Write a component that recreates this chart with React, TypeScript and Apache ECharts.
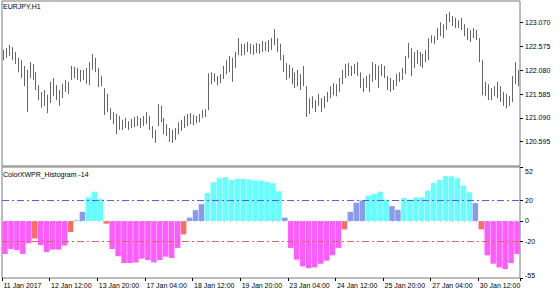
import React, { useEffect, useRef } from 'react';
import * as echarts from 'echarts';

const symbolTitle = 'EURJPY,H1';
const indicatorTitle = 'ColorXWPR_Histogram -14';

const dateLabels = [
  '11 Jan 2017', '12 Jan 12:00', '13 Jan 20:00', '17 Jan 04:00', '18 Jan 12:00',
  '19 Jan 20:00', '23 Jan 04:00', '24 Jan 12:00', '25 Jan 20:00', '27 Jan 04:00', '30 Jan 12:00',
];

const priceTicks = [123.07, 122.575, 122.08, 121.585, 121.09, 120.595];
const wprTicks = [52, 20, 0, -20, -55];
const highLevel = 20;
const lowLevel = -20;

const priceHigh = [
  122.50, 122.54, 122.61, 122.56, 122.46, 122.34, 122.29, 122.17, 122.09, 122.25,
  122.21, 122.04, 121.77, 121.63, 121.67, 121.57, 121.84, 121.92, 121.77, 121.67,
  121.80, 121.88, 121.84, 122.17, 122.15, 122.13, 122.09, 122.09, 122.13, 122.25,
  122.42, 122.34, 122.13, 121.96, 121.71, 121.59, 121.29, 121.21, 121.17, 121.13,
  121.05, 121.09, 121.02, 121.07, 121.11, 121.13, 121.09, 121.13, 121.21, 121.13,
  120.92, 120.84, 121.38, 121.34, 121.09, 120.96, 120.88, 120.84, 120.88, 121.00,
  121.05, 121.13, 121.17, 121.19, 121.15, 121.13, 121.17, 121.25, 121.27, 122.02,
  122.04, 122.02, 121.96, 122.00, 122.17, 122.29, 122.38, 122.34, 122.46, 122.75,
  122.63, 122.63, 122.67, 122.63, 122.61, 122.65, 122.63, 122.69, 122.67, 122.71,
  122.75, 122.94, 122.75, 122.63, 122.40, 122.23, 122.19, 122.13, 122.04, 122.09,
  122.00, 122.17, 121.75, 121.50, 121.54, 121.46, 121.59, 121.50, 121.54, 121.63,
  121.75, 121.81, 121.79, 121.92, 122.09, 122.21, 122.23, 122.17, 122.21, 122.25,
  122.04, 121.92, 121.96, 122.00, 122.25, 122.21, 122.17, 122.21, 122.17, 121.96,
  121.92, 121.88, 122.00, 122.04, 122.13, 122.38, 122.65, 122.54, 122.46, 122.50,
  122.46, 122.42, 122.50, 122.75, 122.81, 122.79, 122.96, 123.08, 123.04, 123.25,
  123.29, 123.21, 123.17, 123.12, 123.17, 123.04, 122.96, 122.92, 122.96, 122.92,
  122.75, 122.29, 121.84, 121.79, 121.71, 121.75, 121.84, 121.75, 121.63, 121.59,
  121.54, 121.96, 122.25, 122.09,
];

const priceLow = [
  122.29, 122.34, 122.38, 122.29, 122.21, 122.04, 121.92, 121.75, 121.21, 121.92,
  121.88, 121.67, 121.46, 121.30, 121.34, 121.19, 121.40, 121.55, 121.46, 121.34,
  121.50, 121.63, 121.59, 121.88, 121.92, 121.88, 121.84, 121.88, 121.80, 121.77,
  122.09, 122.04, 121.73, 121.75, 121.15, 121.21, 121.05, 120.96, 120.75, 120.84,
  120.84, 120.88, 120.84, 120.88, 120.90, 120.92, 120.88, 120.92, 120.96, 120.84,
  120.67, 120.57, 120.92, 121.00, 120.75, 120.71, 120.59, 120.57, 120.63, 120.75,
  120.82, 120.88, 120.92, 120.96, 120.94, 120.98, 121.00, 121.09, 121.11, 121.25,
  121.79, 121.84, 121.77, 121.81, 121.90, 122.00, 122.04, 121.84, 122.13, 122.40,
  122.38, 122.40, 122.46, 122.42, 122.40, 122.44, 122.42, 122.46, 122.48, 122.46,
  122.50, 122.60, 122.46, 122.29, 122.04, 121.88, 121.92, 121.79, 121.71, 121.75,
  121.67, 121.75, 121.11, 121.17, 121.29, 121.21, 121.34, 121.21, 121.29, 121.42,
  121.50, 121.56, 121.54, 121.63, 121.79, 121.92, 121.96, 121.96, 122.00, 121.96,
  121.71, 121.63, 121.71, 121.63, 121.84, 121.88, 121.71, 121.96, 121.92, 121.67,
  121.63, 121.67, 121.75, 121.84, 121.88, 122.00, 122.33, 121.96, 122.13, 122.21,
  122.17, 122.13, 122.25, 122.29, 122.65, 122.63, 122.71, 122.79, 122.75, 122.92,
  123.08, 123.00, 122.96, 122.96, 122.92, 122.79, 122.71, 122.67, 122.75, 122.71,
  122.25, 121.56, 121.54, 121.46, 121.46, 121.54, 121.50, 121.42, 121.34, 121.29,
  121.34, 121.42, 121.79, 121.75,
];

const wprValues = [
  -31.8, -27, -28, -31.8, -21.4, -16.9, -23.4, -29.9, -27.6, -27.6,
  -23.7, -10.7, 0.6, 8.8, 22.7, 28.2, 21, -2.6, -27, -34,
  -40.6, -40.6, -40, -36.4, -37.7, -40, -37.7, -34.4, -35.7, -26,
  -13, 3.2, 10.4, 16.2, 27, 37.3, 41.2, 42.2, 39.6, 40.6,
  40.6, 40, 39, 39, 37.7, 36.4, 28.6, 3.2, -26, -37.3,
  -43.8, -45.5, -44.8, -41.2, -38.3, -33.1, -26, -8.1, 8.8, 17.5,
  19.5, 24.4, 26, 28.2, 20.5, 14.3, 10.7, 22.1, 20.5, 22.7,
  22.7, 29.2, 36.7, 39.6, 43.2, 42.9, 41.2, 34.1, 27.6, 17.2,
  -8.1, -33.1, -41.2, -44.8, -46.4, -40.6, -31.8,
];

const FONT = 'Liberation Sans';
const TXT = { fontSize: 7, fontFamily: FONT, color: '#000000' };

function wprColor(v: number): string {
  if (v > highLevel) return '#66ffff';
  if (v >= 0) return '#8a9aec';
  if (v >= lowLevel) return '#ff6d5e';
  return '#ff5cff';
}

export default function App() {
  const ref = useRef<HTMLDivElement>(null);

  useEffect(() => {
    if (!ref.current) return;
    const chart = echarts.init(ref.current, undefined, { renderer: 'svg' });
    const priceIdx = priceHigh.map((_, i) => i);
    const wprIdx = wprValues.map((_, i) => i);
    const gray = '#666666';

    chart.setOption({
      animation: false,
      backgroundColor: '#ffffff',
      title: [
        { text: symbolTitle, left: 3, top: 3, padding: 0, textStyle: { ...TXT, fontWeight: 'normal' } },
        { text: indicatorTitle, left: 3, top: 171, padding: 0, textStyle: { ...TXT, fontWeight: 'normal' } },
      ],
      grid: [
        { left: 2, right: 40, top: 1, height: 165, show: true, borderColor: '#7a7a7a', borderWidth: 1 },
        { left: 2, right: 40, top: 167, height: 111, show: true, borderColor: '#7a7a7a', borderWidth: 1 },
      ],
      xAxis: [
        { type: 'category', gridIndex: 0, data: priceIdx, show: false },
        { type: 'category', gridIndex: 1, data: wprIdx, show: false },
        {
          type: 'category', gridIndex: 1, data: priceIdx, position: 'bottom',
          axisLine: { show: false },
          axisTick: { show: true, interval: 15, length: 3, lineStyle: { color: '#000' } },
          axisLabel: {
            ...TXT, interval: 15, align: 'left', margin: 4,
            formatter: (_v: string, i: number) => (i % 16 === 0 ? dateLabels[i / 16] ?? '' : ''),
          },
          splitLine: { show: false },
        },
      ],
      yAxis: [
        {
          type: 'value', gridIndex: 0, position: 'right', min: 120.09, max: 123.521,
          axisLine: { show: false }, splitLine: { show: false },
          axisTick: { show: true, customValues: priceTicks, length: 3, lineStyle: { color: '#000' } },
          axisLabel: { ...TXT, customValues: priceTicks, margin: 5, formatter: (v: number) => v.toFixed(3) },
        },
        {
          type: 'value', gridIndex: 1, position: 'right', min: -55, max: 52,
          axisLine: { show: false }, splitLine: { show: false },
          axisTick: { show: true, customValues: wprTicks, length: 3, lineStyle: { color: '#000' } },
          axisLabel: {
            ...TXT, customValues: wprTicks, margin: 5,
            formatter: (v: number) => (v === 52 ? '{t|52}' : v === -55 ? '{b|-55}' : String(v)),
            rich: {
              t: { ...TXT, padding: [8, 0, 0, 0] },
              b: { ...TXT, padding: [0, 0, 6, 0] },
            },
          },
        },
      ],
      series: [
        {
          type: 'candlestick', xAxisIndex: 0, yAxisIndex: 0,
          data: priceHigh.map((h, i) => [priceLow[i], h, priceLow[i], h]),
          barWidth: 1.3,
          itemStyle: { color: gray, color0: gray, borderColor: gray, borderColor0: gray, borderWidth: 1 },
        },
        {
          type: 'bar', xAxisIndex: 1, yAxisIndex: 1,
          data: wprValues.map((v) => ({ value: v, itemStyle: { color: wprColor(v) } })),
          barCategoryGap: '8%',
          markLine: {
            silent: true, symbol: ['none', 'none'], label: { show: false },
            data: [
              { yAxis: highLevel, lineStyle: { color: '#5a5aff', width: 1, type: [7, 3, 2, 3] } },
              { yAxis: lowLevel, lineStyle: { color: '#cc6a6a', width: 1, type: [7, 3, 2, 3] } },
              { yAxis: 0, lineStyle: { color: '#c4c4c4', width: 1, type: [1, 5] } },
            ],
          },
        },
      ],
    });
    return () => chart.dispose();
  }, []);

  return (
    <div
      ref={ref}
      style={{ position: 'absolute', left: 0, top: 0, width: 560, height: 294, background: '#fff' }}
    />
  );
}
